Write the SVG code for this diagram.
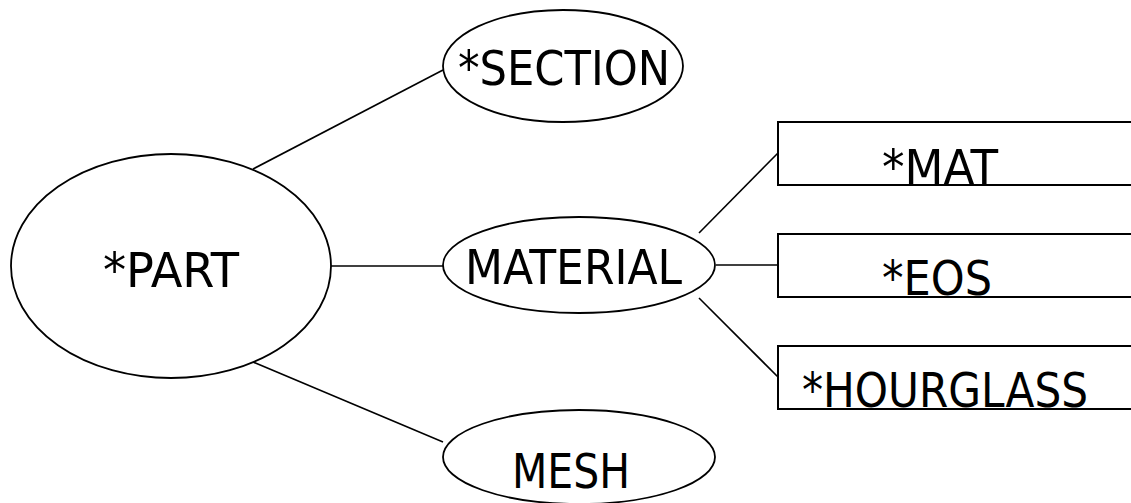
<svg xmlns="http://www.w3.org/2000/svg" width="1131" height="503" viewBox="0 0 1131 503">
<style>
.n{fill:#fff;stroke:#000;stroke-width:1.8}
.r{fill:#fff;stroke:#000;stroke-width:2}
.c{stroke:#000;stroke-width:1.6;fill:none}
text{font-family:"DejaVu Sans Condensed","DejaVu Sans",sans-serif;font-size:48px;fill:#000}
</style>
<rect width="1131" height="503" fill="#fff"/>
<g id="connectors">
<line class="c" x1="253" y1="169" x2="443" y2="70"/>
<line class="c" x1="331" y1="266" x2="443" y2="266"/>
<line class="c" x1="253" y1="362" x2="443" y2="442"/>
<line class="c" x1="699" y1="233" x2="778" y2="153"/>
<line class="c" x1="716" y1="265" x2="778" y2="265"/>
<line class="c" x1="699" y1="298" x2="778" y2="377"/>
</g>
<g id="part"><ellipse class="n" cx="171" cy="266" rx="160" ry="112"/><text x="103" y="287" textLength="136" lengthAdjust="spacingAndGlyphs">*PART</text></g>
<g id="section"><ellipse class="n" cx="563" cy="66" rx="120" ry="56"/><text x="458" y="85" textLength="212" lengthAdjust="spacingAndGlyphs">*SECTION</text></g>
<g id="material"><ellipse class="n" cx="579" cy="265" rx="136" ry="48"/><text x="465" y="284" textLength="217" lengthAdjust="spacingAndGlyphs">MATERIAL</text></g>
<g id="mesh"><ellipse class="n" cx="579" cy="457" rx="136" ry="47"/><text x="512" y="488" textLength="118" lengthAdjust="spacingAndGlyphs">MESH</text></g>
<g id="mat"><rect class="r" x="778" y="122" width="360" height="63"/><text x="882" y="184" textLength="116" lengthAdjust="spacingAndGlyphs">*MAT</text></g>
<g id="eos"><rect class="r" x="778" y="234" width="360" height="63"/><text x="882" y="295" textLength="110" lengthAdjust="spacingAndGlyphs">*EOS</text></g>
<g id="hourglass"><rect class="r" x="778" y="346" width="360" height="63"/><text x="802" y="407" textLength="286" lengthAdjust="spacingAndGlyphs">*HOURGLASS</text></g>
</svg>
